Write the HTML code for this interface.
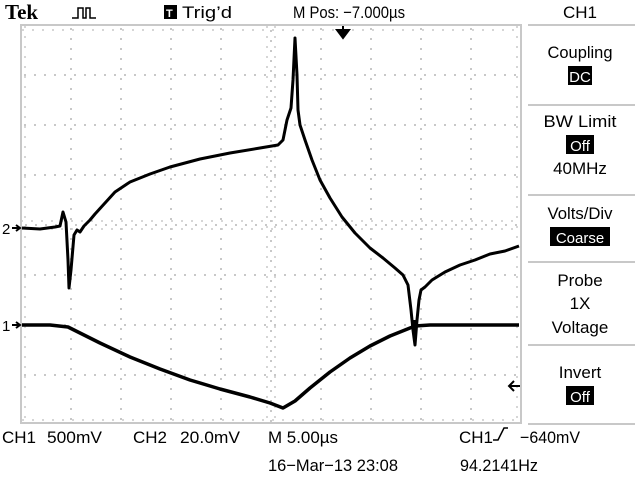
<!DOCTYPE html>
<html><head><style>
html,body{margin:0;padding:0;background:#fff}
svg{display:block}
text{font-family:"Liberation Sans",sans-serif;fill:#000}
text.tek{font-family:"Liberation Serif",serif;font-weight:bold}
</style></head><body>
<svg width="640" height="480" viewBox="0 0 640 480" xmlns="http://www.w3.org/2000/svg">
<rect width="640" height="480" fill="#fff"/>
<rect x="21" y="25" width="500" height="398" fill="none" stroke="#c8c8c8" stroke-width="2"/>
<g stroke="#c8c8c8" stroke-width="2" stroke-dasharray="2,8">
<line x1="71" y1="28" x2="71" y2="422"/><line x1="121" y1="28" x2="121" y2="422"/>
<line x1="171" y1="28" x2="171" y2="422"/><line x1="221" y1="28" x2="221" y2="422"/>
<line x1="321" y1="28" x2="321" y2="422"/><line x1="371" y1="28" x2="371" y2="422"/>
<line x1="421" y1="28" x2="421" y2="422"/><line x1="471" y1="28" x2="471" y2="422"/>
<line x1="24" y1="75" x2="520" y2="75"/><line x1="24" y1="125" x2="520" y2="125"/>
<line x1="24" y1="175" x2="520" y2="175"/><line x1="24" y1="275" x2="520" y2="275"/>
<line x1="24" y1="325" x2="520" y2="325"/><line x1="24" y1="375" x2="520" y2="375"/>
</g>
<g stroke="#c8c8c8" stroke-width="2" stroke-dasharray="2,8" stroke-dashoffset="-4">
<line x1="271" y1="26" x2="271" y2="422"/><line x1="21" y1="225" x2="520" y2="225"/>
</g>
<g stroke="#c8c8c8" stroke-width="1.5" stroke-dasharray="2,8">
<line x1="22" y1="30" x2="520" y2="30"/><line x1="22" y1="420" x2="520" y2="420"/>
<line x1="25" y1="26" x2="25" y2="422"/><line x1="517" y1="26" x2="517" y2="422"/>
<line x1="267" y1="26" x2="267" y2="422"/><line x1="275" y1="26" x2="275" y2="422"/>
<line x1="21" y1="221" x2="520" y2="221"/><line x1="21" y1="229" x2="520" y2="229"/>
</g>
<polyline fill="none" stroke="#000" stroke-width="3.5" stroke-linejoin="round" points="22,325 50,325 68,327 80,333 100,343 130,357 160,369 190,380 220,389 250,397 270,403 283,408 295,401 310,388 330,372 350,358 370,346 390,336 405,330 415,326 430,325 470,325 519,325"/>
<polyline fill="none" stroke="#000" stroke-width="3" stroke-linejoin="round" points="22,228 40,229 55,227 60,226 63,212 66,222 68,260 69,288 71,270 74,235 77,230 80,232 84,226 90,220 95,214 105,203 115,192 130,182 150,174 170,167 200,159 230,153 260,148 278,145 283,140 287,120 291,108 293,80 295,38 297,75 298,110 300,125 305,140 312,160 320,180 330,198 342,217 355,233 370,248 383,258 395,268 403,275 408,285 411,310 413,330 415,345 417,320 419,300 421,290 425,287 432,280 445,272 460,265 475,260 490,254 505,251 519,246"/>
<line x1="415" y1="320" x2="415" y2="343" stroke="#000" stroke-width="3"/>
<text x="2" y="234" font-size="15">2</text><path d="M12,228 L20,228 M16,225 L20,228 L16,231" stroke="#000" stroke-width="2" fill="none"/>
<text x="2" y="331" font-size="15">1</text><path d="M12,325 L20,325 M16,322 L20,325 L16,328" stroke="#000" stroke-width="2" fill="none"/>
<path d="M337,30 L349,30 L343,38 Z M343,26 L343,34" stroke="#000" stroke-width="2" fill="#000"/>
<path d="M510,386 L520,386 M514,381 L509,386 L514,391" stroke="#000" stroke-width="2" fill="none"/>
<text class="tek" x="5" y="19" font-size="21">Tek</text>
<path d="M72,18 L78,18 L78,8 L83,8 L83,18 L86,18 L86,8 L90,8 L90,18 L96,18" stroke="#000" stroke-width="1.5" fill="none"/>
<rect x="164" y="5" width="13" height="14" fill="#000"/>
<text x="166" y="17" font-size="11" font-weight="bold" style="fill:#fff">T</text>
<text x="182" y="18" font-size="17" textLength="50" lengthAdjust="spacingAndGlyphs">Trig’d</text>
<text x="293" y="18" font-size="17" textLength="112" lengthAdjust="spacingAndGlyphs">M Pos: −7.000µs</text>
<text x="580" y="18" font-size="17" text-anchor="middle">CH1</text>
<g stroke="#c8c8c8" stroke-width="2">
<line x1="528" y1="25" x2="635" y2="25"/><line x1="528" y1="105" x2="635" y2="105"/>
<line x1="528" y1="195" x2="635" y2="195"/><line x1="528" y1="262" x2="635" y2="262"/>
<line x1="528" y1="345" x2="635" y2="345"/><line x1="528" y1="424" x2="635" y2="424"/>
</g>
<g font-size="17" text-anchor="middle">
<text x="580" y="58" textLength="65" lengthAdjust="spacingAndGlyphs">Coupling</text>
<rect x="568" y="66" width="24" height="19" fill="#000"/><text x="580" y="82" style="fill:#fff" font-size="15">DC</text>
<text x="580" y="127" textLength="73" lengthAdjust="spacingAndGlyphs">BW Limit</text>
<rect x="566" y="135" width="28" height="19" fill="#000"/><text x="580" y="151" style="fill:#fff" font-size="15">Off</text>
<text x="580" y="174">40MHz</text>
<text x="580" y="219" textLength="65" lengthAdjust="spacingAndGlyphs">Volts/Div</text>
<rect x="550" y="227" width="60" height="19" fill="#000"/><text x="580" y="243" style="fill:#fff" font-size="15">Coarse</text>
<text x="580" y="286">Probe</text>
<text x="580" y="309">1X</text>
<text x="580" y="333">Voltage</text>
<text x="580" y="378">Invert</text>
<rect x="566" y="386" width="28" height="19" fill="#000"/><text x="580" y="402" style="fill:#fff" font-size="15">Off</text>
</g>
<g font-size="17">
<text x="2" y="443">CH1</text><text x="47" y="443" textLength="55" lengthAdjust="spacingAndGlyphs">500mV</text>
<text x="133" y="443">CH2</text><text x="180" y="443" textLength="60" lengthAdjust="spacingAndGlyphs">20.0mV</text>
<text x="268" y="443" textLength="70" lengthAdjust="spacingAndGlyphs">M 5.00µs</text>
<text x="459" y="443">CH1</text>
<path d="M493,440 L498,440 L504,428 L508,428" stroke="#000" stroke-width="1.5" fill="none"/>
<text x="520" y="443" textLength="60" lengthAdjust="spacingAndGlyphs">−640mV</text>
<text x="268" y="471" textLength="130" lengthAdjust="spacingAndGlyphs">16−Mar−13 23:08</text>
<text x="460" y="471" textLength="78" lengthAdjust="spacingAndGlyphs">94.2141Hz</text>
</g>
</svg>
</body></html>
